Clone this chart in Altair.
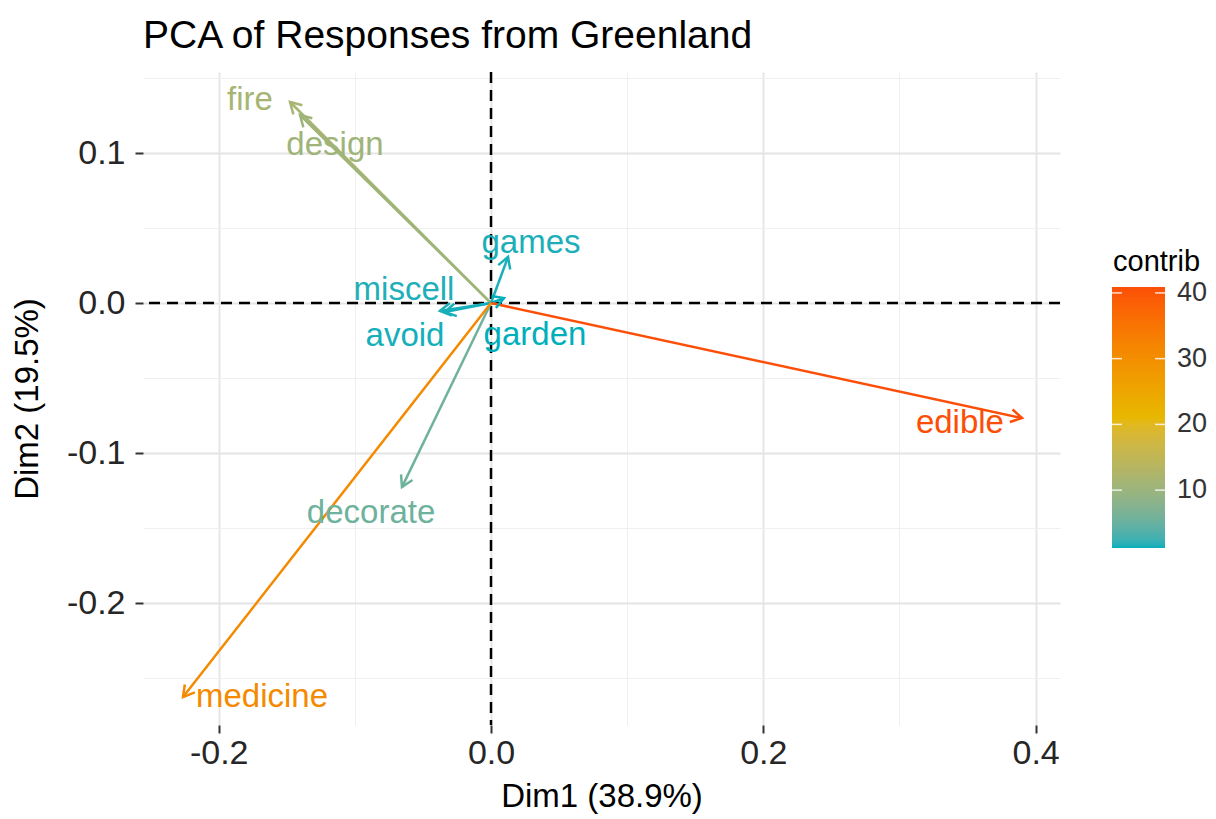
import math
import altair as alt
import numpy as np
import pandas as pd

# ---- data ----
variables = ["fire", "design", "games", "miscell", "avoid", "garden", "edible", "decorate", "medicine"]
dim1 = [-0.1476, -0.1403, 0.0125, -0.0375, -0.0340, 0.0095, 0.3900, -0.0654, -0.2262]
dim2 = [0.1340, 0.1253, 0.0307, -0.0053, -0.0060, 0.0033, -0.0767, -0.1227, -0.2627]
contrib = [11.5, 10.5, 1.5, 1.6, 1.4, 1.2, 40.9, 5.5, 31.0]
label_dim1 = [-0.1770, -0.1146, 0.0294, -0.0639, -0.0632, 0.0323, 0.3444, -0.0881, -0.1682]
label_dim2 = [0.1353, 0.1053, 0.0400, 0.0087, -0.0220, -0.0213, -0.0800, -0.1400, -0.2627]

x_ticks = [-0.2, -0.1, 0.0, 0.1, 0.2, 0.3, 0.4]
y_ticks = [-0.25, -0.2, -0.15, -0.1, -0.05, 0.0, 0.05, 0.1, 0.15]
legend_ticks = [10, 20, 30, 40]
contrib_range = [1.2, 40.9]

title_text = "PCA of Responses from Greenland"
x_title = "Dim1 (38.9%)"
y_title = "Dim2 (19.5%)"
legend_title = "contrib"

# ---- layout ----
W, H = 917, 653
X_DOM = [-0.2556, 0.4179]
Y_DOM = [-0.2813, 0.154]
FONT = "Liberation Sans"
px_x = W / (X_DOM[1] - X_DOM[0])
px_y = H / (Y_DOM[1] - Y_DOM[0])

df = pd.DataFrame({
    "name": variables,
    "x": dim1,
    "y": dim2,
    "contrib": contrib,
    "lx": label_dim1,
    "ly": label_dim2,
})
df["x0"] = 0.0
df["y0"] = 0.0
df["angle"] = [
    (math.degrees(math.atan2(-b * px_y, a * px_x)) + 360) % 360 for a, b in zip(dim1, dim2)
]

zero_df = pd.DataFrame({"zero": [0.0]})

label_axis_x = "round(datum.value*10) % 2 == 0 ? replace(format(datum.value, '.1f'), '\u2212', '-') : ''"
label_axis_y = "round(datum.value*20) % 2 == 0 ? replace(format(datum.value, '.1f'), '\u2212', '-') : ''"
major_x = "round(datum.value*10) % 2 == 0"
major_y = "round(datum.value*20) % 2 == 0"

axis_x = alt.Axis(
    values=x_ticks, labelExpr=label_axis_x, title=x_title, domain=False,
    grid=True,
    gridColor={"condition": {"test": major_x, "value": "#E4E4E4"}, "value": "#EFEFEF"},
    gridWidth={"condition": {"test": major_x, "value": 1.8}, "value": 1.0},
    tickColor={"condition": {"test": major_x, "value": "#333333"}, "value": "transparent"},
    tickSize=8, tickWidth=2, labelFontSize=34, labelFont=FONT, labelColor="#262626",
    labelPadding=3, titleFont=FONT, titleFontSize=33, titleFontWeight="normal",
    titleColor="#000000", titlePadding=10, labelFlush=False, labelOverlap=False,
)
axis_y = alt.Axis(
    values=y_ticks, labelExpr=label_axis_y, title=y_title, domain=False,
    grid=True,
    gridColor={"condition": {"test": major_y, "value": "#E4E4E4"}, "value": "#EFEFEF"},
    gridWidth={"condition": {"test": major_y, "value": 1.8}, "value": 1.0},
    tickColor={"condition": {"test": major_y, "value": "#333333"}, "value": "transparent"},
    tickSize=8, tickWidth=2, labelFontSize=34, labelFont=FONT, labelColor="#262626",
    labelPadding=10, titleFont=FONT, titleFontSize=33, titleFontWeight="normal",
    titleColor="#000000", titlePadding=22, labelFlush=False, labelOverlap=False,
)
xs = alt.Scale(domain=X_DOM, nice=False, zero=False)
ys = alt.Scale(domain=Y_DOM, nice=False, zero=False)

C_MID = (contrib_range[0] + contrib_range[1]) / 2
C_DOMAIN = [contrib_range[0], C_MID, contrib_range[1]]
C_RANGE = ["#00AFBB", "#E7B800", "#FC4E07"]
color_scale = alt.Scale(domain=C_DOMAIN, range=C_RANGE, interpolate="lab")
color_enc = alt.Color("contrib:Q", scale=color_scale, legend=None)


def X(f):
    return alt.X(f, type="quantitative", scale=xs, axis=axis_x)


def Y(f):
    return alt.Y(f, type="quantitative", scale=ys, axis=axis_y)


base = alt.Chart(df)

hline = alt.Chart(zero_df).mark_rule(color="#000000", strokeWidth=2.5, strokeDash=[11, 7]).encode(y=Y("zero"))
vline = alt.Chart(zero_df).mark_rule(color="#000000", strokeWidth=2.5, strokeDash=[11, 7]).encode(x=X("zero"))

shafts = base.mark_rule(strokeWidth=2.5).encode(
    x=X("x0"), y=Y("y0"), x2="x", y2="y", color=color_enc
)
heads = base.mark_point(
    shape="M -0.866 -0.5 L 0 0 L -0.866 0.5", filled=False, strokeWidth=2.5, size=650, opacity=1
).encode(
    x=X("x"), y=Y("y"), color=color_enc, angle=alt.Angle("angle:Q", scale=None)
)
labels = base.mark_text(font=FONT, fontSize=33, align="center", baseline="middle").encode(
    x=X("lx"), y=Y("ly"), text="name:N", color=color_enc
)

main = alt.layer(hline, vline, shafts, heads, labels)

# ---- colour bar legend (drawn with the same colour scale) ----
LEG_LEFT, LEG_RIGHT = 969, 1022          # pixels from plot-area left
LEG_TOP, LEG_BOTTOM = 215, 476           # pixels from plot-area top
n_band = 160
edges = np.linspace(contrib_range[0], contrib_range[1], n_band + 1)
step = edges[1] - edges[0]
bar_df = pd.DataFrame({
    "v0": edges[:-1],
    "v1": np.minimum(edges[:-1] + 2.5 * step, contrib_range[1]),
    "contrib": (edges[:-1] + edges[1:]) / 2,
})
tick_df = pd.DataFrame({"t": legend_ticks, "txt": [str(t) for t in legend_ticks]})
title_df = pd.DataFrame({"txt": [legend_title]})

leg_y = alt.Scale(domain=contrib_range, range=[LEG_BOTTOM, LEG_TOP], nice=False, zero=False)

bar = alt.Chart(bar_df).mark_rect(strokeWidth=0).encode(
    x=alt.value(LEG_LEFT), x2=alt.value(LEG_RIGHT),
    y=alt.Y("v0:Q", scale=leg_y, axis=None), y2="v1:Q",
    color=color_enc,
)
tick_l = alt.Chart(tick_df).mark_rule(color="#FFFFFF", strokeWidth=1.5, opacity=0.8).encode(
    x=alt.value(LEG_LEFT), x2=alt.value(LEG_LEFT + 10),
    y=alt.Y("t:Q", scale=leg_y, axis=None),
)
tick_r = alt.Chart(tick_df).mark_rule(color="#FFFFFF", strokeWidth=1.5, opacity=0.8).encode(
    x=alt.value(LEG_RIGHT - 10), x2=alt.value(LEG_RIGHT),
    y=alt.Y("t:Q", scale=leg_y, axis=None),
)
tick_txt = alt.Chart(tick_df).mark_text(
    font=FONT, fontSize=27, color="#333333", align="left", baseline="middle"
).encode(
    x=alt.value(LEG_RIGHT + 12),
    y=alt.Y("t:Q", scale=leg_y, axis=None),
    text="txt:N",
)
leg_title = alt.Chart(title_df).mark_text(
    font=FONT, fontSize=29, color="#000000", align="left", baseline="alphabetic"
).encode(
    x=alt.value(LEG_LEFT + 1), y=alt.value(LEG_TOP - 16), text="txt:N"
)
legend = alt.layer(bar, tick_l, tick_r, tick_txt, leg_title)

chart = alt.layer(main, legend).resolve_scale(y="independent").properties(
    width=W, height=H,
    background="#FFFFFF",
    title=alt.TitleParams(
        title_text, anchor="start", frame="group", font=FONT, fontSize=39,
        fontWeight="normal", color="#000000", offset=5,
    ),
    autosize=alt.AutoSizeParams(type="none"),
    padding={"left": 143, "top": 72, "right": 156, "bottom": 94},
).configure_view(strokeWidth=0, stroke="transparent")

chart.save("out.html", embed_options={"renderer": "svg", "actions": False})
